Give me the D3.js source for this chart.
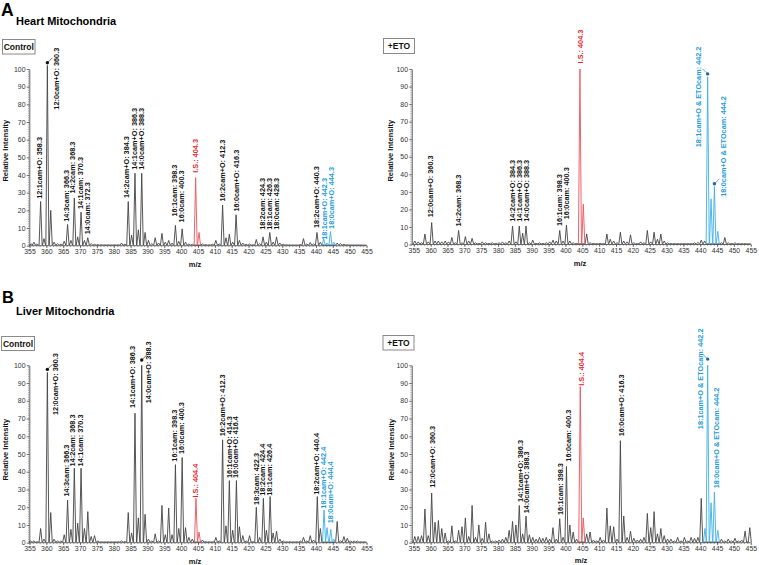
<!DOCTYPE html>
<html><head><meta charset="utf-8">
<script src="https://cdn.jsdelivr.net/npm/d3@7/dist/d3.min.js"></script>
<style>body{margin:0;background:#fff}svg{font-family:"Liberation Sans",Arial,sans-serif}</style>
</head><body>
<svg id="c" width="759" height="565"></svg>
<script>
// ---------- DATA ----------
const mzTicks = [355,360,365,370,375,380,385,390,395,400,405,410,415,420,425,430,435,440,445,450,455];
const intensityTicks = [0,10,20,30,40,50,60,70,80,90,100];

// spectra: [m/z, relative intensity]
const heartControl = [[355.5,1],[356.3,2],[357.2,1],[358.3,25],[359.3,4],[360.3,102],[361.3,20],[362.3,2],[363.3,1.2],[364.3,0.8],[365.3,2.5],[366.3,12],[367.3,3],[368.3,27],[369.3,5],[370.3,19],[371.3,3],[372.3,4.5],[373.3,1.2],[374.3,0.8],[375.3,0.6],[376.3,0.5],[377.3,0.5],[378.3,0.5],[379.3,0.4],[380.3,0.5],[381.3,0.5],[382.3,1.5],[383.3,0.8],[384.3,25],[385.3,6],[386.3,41],[387.3,9],[388.3,41],[389.3,7.5],[390.3,3],[391.3,1.2],[392.3,4.5],[393.3,1.5],[394.3,7],[395.3,2],[396.3,3],[397.3,1.5],[398.3,11.5],[399.3,2.5],[400.3,9.5],[401.3,2],[402.3,1],[403.3,0.8],[404.3,38.5],[405.3,7.5],[406.3,1],[407.3,0.6],[408.3,0.5],[409.3,0.8],[410.3,3],[411.3,1],[412.3,23],[413.3,4.5],[414.3,6.5],[415.3,2],[416.3,17.5],[417.3,3],[418.3,1.5],[419.3,0.8],[420.3,1],[421.3,0.5],[422.3,3.5],[423.3,1.2],[424.3,5],[425.3,2],[426.3,7.5],[427.3,2],[428.3,5],[429.3,1.5],[430.3,0.8],[431.3,0.5],[432.3,0.4],[433.3,0.4],[434.3,0.4],[435.3,0.6],[436.3,4],[437.3,1],[438.3,1.8],[439.3,1],[440.3,7.5],[441.3,2],[442.3,4],[443.3,1.5],[444.3,8],[445.3,2],[446.3,1.5],[447.3,1.2],[448.3,0.8],[449.3,0.5],[450.3,0.4],[452.3,0.4],[454.3,0.3]];

const heartETO = [[355.3,2],[356.3,1.5],[357.3,1],[358.3,6],[359.3,1.5],[360.3,12.5],[361.3,2],[362.3,2],[363.3,1.5],[364.3,2],[365.3,1.5],[366.3,4],[367.3,1],[368.3,8],[369.3,1],[370.3,4.5],[371.3,2],[372.3,3.5],[373.3,1],[374.3,0.6],[375.3,1.5],[376.3,1],[377.3,0.6],[378.3,1],[379.3,0.6],[380.3,1],[381.3,1.5],[382.3,1],[383.3,2],[384.3,10.5],[385.3,1.5],[386.3,10.5],[387.3,6.5],[388.3,10.5],[389.3,1],[390.3,2.5],[391.3,0.6],[392.3,1],[393.3,0.6],[394.3,1],[395.3,1.5],[396.3,2.5],[397.3,2],[398.3,8],[399.3,2],[400.3,11],[401.3,2],[402.3,1],[403.3,0.6],[404.3,100],[405.3,23],[406.3,6],[407.3,1],[408.3,0.6],[409.3,0.5],[410.3,0.6],[411.3,0.5],[412.3,6],[413.3,3],[414.3,2],[415.3,1],[416.3,7],[417.3,2],[418.3,1.5],[419.3,5.5],[420.3,1],[421.3,0.5],[422.3,1.5],[423.3,1],[424.3,8],[425.3,1.5],[426.3,7],[427.3,3],[428.3,6],[429.3,2],[430.3,1],[431.3,0.5],[432.3,0.5],[433.3,0.5],[434.3,0.4],[435.3,0.5],[436.3,0.5],[437.3,0.5],[438.3,1],[439.3,1.2],[440.3,2.5],[441.3,2],[442.2,95.5],[443.2,26],[444.2,33],[445.2,7.5],[446.3,1],[447.3,4],[448.3,1],[449.3,0.6],[450.3,1],[451.3,0.5],[452.3,0.5],[453.3,0.5],[454.3,0.4]];

const liverControl = [[355.3,1],[356.3,1],[357.3,0.5],[358.3,8],[359.3,2],[360.3,96],[361.3,17],[362.3,2],[363.3,1],[364.3,1],[365.3,4.5],[366.3,24],[367.3,7.5],[368.3,42],[369.3,11],[370.3,42],[371.3,8],[372.3,17.5],[373.3,3.5],[374.3,4],[375.3,1],[376.3,0.5],[377.3,0.5],[378.3,0.5],[379.3,0.5],[380.3,0.5],[381.3,0.5],[382.3,1],[383.3,0.6],[384.3,17],[385.3,5.5],[386.3,73],[387.3,14],[388.3,100],[389.3,16],[390.3,2],[391.3,1],[392.3,5],[393.3,1],[394.3,21],[395.3,4.5],[396.3,19.5],[397.3,4.5],[398.3,44],[399.3,8],[400.3,48],[401.3,8.5],[402.3,3],[403.3,2],[404.4,25],[405.3,6],[406.3,1.5],[407.3,0.6],[408.3,0.5],[409.3,0.5],[410.3,3],[411.3,1],[412.3,58],[413.3,9.5],[414.3,35],[415.3,7],[416.4,35],[417.3,9],[418.3,4],[419.3,1],[420.3,4],[421.3,0.5],[422.3,20],[423.3,3],[424.4,25],[425.3,7],[426.4,26],[427.3,5.5],[428.3,6.5],[429.3,2],[430.3,1],[431.3,0.5],[432.3,0.5],[433.3,0.5],[434.3,0.5],[435.3,1],[436.3,3],[437.3,1],[438.3,4],[439.3,1.5],[440.4,26],[441.3,8],[442.4,18.5],[443.3,8.5],[444.4,7.5],[445.3,2],[446.3,12],[447.3,1],[448.3,3.5],[449.3,2.5],[450.3,1],[451.3,1],[452.3,1],[453.3,0.5],[454.3,0.5]];

const liverETO = [[355.3,3.5],[356.3,3.5],[357.3,4],[358.3,19],[359.3,4],[360.3,28],[361.3,11.5],[362.3,12.5],[363.3,8],[364.3,5.5],[365.3,1],[366.3,9.5],[367.3,1],[368.3,7],[369.3,9],[370.3,14],[371.3,3.5],[372.3,21],[373.3,3],[374.3,10],[375.3,2.5],[376.3,11.5],[377.3,5],[378.3,1],[379.3,1],[380.3,1.5],[381.3,2],[382.3,3],[383.3,7],[384.3,12],[385.3,10],[386.3,21],[387.3,5],[388.3,15],[389.3,4.5],[390.3,3],[391.3,2],[392.3,3],[393.3,2.5],[394.3,3],[395.3,2],[396.3,8.5],[397.3,2],[398.3,13.5],[399.3,3],[400.3,43],[401.3,10],[402.3,6],[403.3,2],[404.4,88],[405.3,14],[406.3,5],[407.3,6],[408.3,1.5],[409.3,1],[410.3,3],[411.3,1.5],[412.3,19.5],[413.3,9.5],[414.3,9],[415.3,2],[416.3,57.5],[417.3,15],[418.3,3],[419.3,6.5],[420.3,2.5],[421.3,1.5],[422.3,2],[423.3,3],[424.3,16.5],[425.3,8.5],[426.3,17.5],[427.3,5],[428.3,8],[429.3,4],[430.3,2],[431.3,2],[432.3,1],[433.3,3],[434.3,1],[435.3,3],[436.3,1],[437.3,3],[438.3,2.5],[439.3,3],[440.3,25],[441.4,8],[442.2,100],[443.2,22.5],[444.2,28.5],[445.2,7],[446.3,2],[447.3,1],[448.3,2],[449.3,1],[450.3,2.5],[451.3,1],[452.3,1.5],[453.3,6.5],[454.7,8.5]];

// peak labels: [text, m/z of label, intensity at label foot, kind, callout peak m/z, callout intensity]
const heartControlLabels = [
 ["12:1cam+O: 358.3",357.9,26.5,"std"],
 ["12:0cam+O: 360.3",363.1,77,"std",360.3,103.5],
 ["14:3cam: 366.3",365.8,13.5,"std"],
 ["14:2cam: 368.3",367.8,29.5,"std"],
 ["14:1cam: 370.3",370.0,20.8,"std"],
 ["14:0cam: 372.3",372.2,6.5,"std"],
 ["14:2cam+O: 384.3",383.8,27,"std"],
 ["14:1cam+O: 386.3",386.1,43,"std"],
 ["14:0cam+O: 388.3",388.1,43,"std"],
 ["16:1cam: 398.3",397.9,16.5,"std"],
 ["16:0cam: 400.3",400.2,13.2,"std"],
 ["I.S.: 404.3",404.3,41.3,"is"],
 ["16:2cam+O: 412.3",412.2,25,"std"],
 ["16:0cam+O: 416.3",416.3,19.3,"std"],
 ["18:2cam: 424.3",424.1,9,"std"],
 ["18:1cam: 426.3",426.2,9,"std"],
 ["18:0cam: 428.3",428.4,9,"std"],
 ["18:2cam+O: 440.3",440.2,10,"std"],
 ["18:1cam+O: 442.3",442.4,3.3,"eto"],
 ["18:0cam+O: 444.3",444.6,9.5,"eto"]
];
const heartETOLabels = [
 ["12:0cam+O: 360.3",360.0,15.5,"std"],
 ["14:2cam: 368.3",368.2,10.2,"std"],
 ["14:2cam+O: 384.3",384.35,13,"std"],
 ["14:1cam+O: 386.3",386.3,13,"std"],
 ["14:0cam+O: 388.3",388.5,13,"std"],
 ["16:1cam: 398.3",398.2,10.5,"std"],
 ["16:0cam: 400.3",400.4,14.4,"std"],
 ["I.S.: 404.3",404.3,103.2,"is"],
 ["18:1cam+O & ETOcam: 442.2",439.4,55.4,"eto",442.2,97.2],
 ["18:0cam+O & ETOcam: 444.2",446.8,27.2,"eto",444.2,34.6]
];
const liverControlLabels = [
 ["12:0cam+O: 360.3",362.6,72,"std",360.3,97.7],
 ["14:3cam: 366.3",365.8,26,"std"],
 ["14:2cam: 368.3",367.8,43,"std"],
 ["14:1cam: 370.3",370.0,43,"std"],
 ["14:1cam+O: 386.3",385.5,76,"std"],
 ["14:0cam+O: 388.3",390.3,78.6,"std",388.3,103],
 ["16:1cam: 398.3",398.0,45.7,"std"],
 ["16:0cam: 400.3",400.2,50,"std"],
 ["I.S.: 404.4",404.1,25.5,"is"],
 ["16:2cam+O: 412.3",412.2,60,"std"],
 ["16:1cam+O: 414.3",414.2,36.5,"std"],
 ["16:0cam+O: 416.4",416.2,36.5,"std"],
 ["18:3cam: 422.3",422.2,21.3,"std"],
 ["18:2cam: 424.4",424.2,26.5,"std"],
 ["18:1cam: 426.4",426.2,26.5,"std"],
 ["18:2cam+O: 440.4",440.2,27,"std"],
 ["18:1cam+O: 442.4",442.2,19.2,"eto"],
 ["18:0cam+O: 444.4",444.4,11,"eto"]
];
const liverETOLabels = [
 ["12:0cam+O: 360.3",360.6,31,"std"],
 ["14:1cam+O: 386.3",386.5,23,"std"],
 ["14:0cam+O: 388.3",388.5,16.6,"std"],
 ["16:1cam: 398.3",398.6,15.6,"std"],
 ["16:0cam: 400.3",400.8,45.7,"std"],
 ["I.S.: 404.4",404.8,88.5,"is"],
 ["16:0cam+O: 416.3",416.7,60,"std"],
 ["18:1cam+O & ETOcam: 442.2",440.1,64,"eto",442.2,103.5],
 ["18:0cam+O & ETOcam: 444.2",444.7,30.7,"eto"]
];

// ---------- LAYOUT / STYLE ----------
const svg = d3.select("#c");
const textColor = {std:"#111", is:"#e3262d", eto:"#1c9bd8"};
const lineColor = {std:"#444", is:"#ec5a62", eto:"#45b3ea"};
const dotColor = {std:"#111", is:"#e3262d", eto:"#1f63ad"};
function kindOf(mz){
  if (mz >= 403.8 && mz <= 405.8) return "is";
  if (mz >= 441.35 && mz <= 445.7) return "eto";
  return "std";
}

const panels = [
 {peaks:heartControl, labels:heartControlLabels, tag:"Control", ax:29.3, xr:[29.5,366.5], yr:[245.7,69],
  box:[2.5,39.5,32.5,14.5], ylab:[5,150.7], mz:[195,268]},
 {peaks:heartETO, labels:heartETOLabels, tag:"+ETO", ax:411.8, xr:[413.8,750.8], yr:[244.5,69],
  box:[383.5,38.5,31,15], ylab:[390,150.7], mz:[580,266.5]},
 {peaks:liverControl, labels:liverControlLabels, tag:"Control", ax:29.3, xr:[29.5,366.5], yr:[542.7,365.3],
  box:[1.5,336.5,33,14], ylab:[5,449.7], mz:[195,565]},
 {peaks:liverETO, labels:liverETOLabels, tag:"+ETO", ax:411.8, xr:[413.8,750.8], yr:[542.7,365.3],
  box:[383,335.5,31,14.5], ylab:[391,449.7], mz:[581,564]}
];

// headings
svg.append("text").attr("x",1).attr("y",16).attr("font-size",17.5).attr("font-weight","bold").text("A");
svg.append("text").attr("x",16).attr("y",25.2).attr("font-size",11).attr("font-weight","bold").text("Heart Mitochondria");
svg.append("text").attr("x",2).attr("y",303.3).attr("font-size",16.5).attr("font-weight","bold").text("B");
svg.append("text").attr("x",16).attr("y",314.5).attr("font-size",11).attr("font-weight","bold").text("Liver Mitochondria");

const HW = 0.45, BASE = 0.35;
const labFS = 7.3;

panels.forEach(p => {
  const x = d3.scaleLinear().domain([355,455]).range(p.xr);
  const y = d3.scaleLinear().domain([0,100]).range(p.yr);
  const g = svg.append("g");

  // tag box
  g.append("rect").attr("x",p.box[0]).attr("y",p.box[1]).attr("width",p.box[2]).attr("height",p.box[3])
    .attr("fill","#fff").attr("stroke","#8a8a8a").attr("stroke-width",1);
  g.append("text").attr("x",p.box[0]+p.box[2]/2).attr("y",p.box[1]+p.box[3]/2+3.1)
    .attr("text-anchor","middle").attr("font-size",8.5).attr("font-weight","bold").attr("fill","#111").text(p.tag);

  // axes
  const yMinor = g.append("g").attr("transform",`translate(${p.ax},0)`)
    .call(d3.axisLeft(y).tickValues(d3.range(0,101,1)).tickSize(1.4).tickFormat(""));
  yMinor.select(".domain").remove();
  yMinor.selectAll("line").attr("stroke","#555").attr("stroke-width",0.5);
  const yAx = g.append("g").attr("transform",`translate(${p.ax},0)`)
    .call(d3.axisLeft(y).tickValues(intensityTicks).tickSize(2.6).tickSizeOuter(0).tickPadding(1.2));
  yAx.select(".domain").attr("stroke","#444").attr("stroke-width",0.8);
  yAx.selectAll("line").attr("stroke","#444").attr("stroke-width",0.7);
  yAx.selectAll("text").attr("font-size",6.9).attr("fill","#333").attr("font-family","Liberation Sans, Arial, sans-serif");

  const xMinor = g.append("g").attr("transform",`translate(0,${p.yr[0]})`)
    .call(d3.axisBottom(x).tickValues(d3.range(355,456,1)).tickSize(1.4).tickFormat(""));
  xMinor.select(".domain").remove();
  xMinor.selectAll("line").attr("stroke","#555").attr("stroke-width",0.5);
  const xAx = g.append("g").attr("transform",`translate(0,${p.yr[0]})`)
    .call(d3.axisBottom(x).tickValues(mzTicks).tickSize(2.4).tickSizeOuter(0).tickPadding(1.2));
  xAx.select(".domain").attr("stroke","#444").attr("stroke-width",0.8)
     .attr("d",`M${p.ax},0H${p.xr[1]}`);
  xAx.selectAll("line").attr("stroke","#444").attr("stroke-width",0.7);
  xAx.selectAll("text").attr("font-size",6.9).attr("fill","#333").attr("font-family","Liberation Sans, Arial, sans-serif");

  // axis titles
  g.append("text").attr("transform",`translate(${p.ylab[0]+2.6},${p.ylab[1]}) rotate(-90)`)
    .attr("text-anchor","middle").attr("font-size",7.5).attr("font-weight","bold").attr("fill","#111").text("Relative Intensity");
  g.append("text").attr("x",p.mz[0]).attr("y",p.mz[1]-0.8).attr("text-anchor","middle")
    .attr("font-size",7.5).attr("font-weight","bold").attr("fill","#111").text("m/z");

  // spectrum
  const line = d3.line().x(d=>x(d[0])).y(d=>y(d[1]));
  const sorted = p.peaks.slice().sort((a,b)=>a[0]-b[0]);
  const blackPts = [[355,BASE]];
  sorted.forEach(([m,v]) => {
    if (kindOf(m) === "std") blackPts.push([m-HW,BASE],[m,v],[m+HW,BASE]);
  });
  blackPts.push([455,BASE]);
  g.append("path").attr("d",line(blackPts)).attr("fill","none")
    .attr("stroke",lineColor.std).attr("stroke-width",0.9).attr("stroke-linejoin","round");
  sorted.forEach(([m,v]) => {
    const k = kindOf(m);
    if (k === "std") return;
    g.append("path").attr("d",line([[m-HW,BASE],[m,v],[m+HW,BASE]])).attr("fill","none")
      .attr("stroke",lineColor[k]).attr("stroke-width",0.95).attr("stroke-linejoin","round");
  });

  // labels
  p.labels.forEach(L => {
    const [t,m,v,k,cm,cv] = L;
    g.append("text")
      .attr("transform",`translate(${x(m)+labFS*0.36},${y(v)}) rotate(-90)`)
      .attr("font-size",labFS).attr("font-weight","bold").attr("fill",textColor[k]).text(t);
    if (cm !== undefined) {
      const dir = m > cm ? 1 : -1;
      g.append("line").attr("x1",x(cm)).attr("y1",y(cv)).attr("x2",x(cm)+dir*5).attr("y2",y(cv)-5)
        .attr("stroke",k==="eto"?"#3a78b8":"#333").attr("stroke-width",0.7);
      g.append("circle").attr("cx",x(cm)).attr("cy",y(cv)).attr("r",1.7).attr("fill",dotColor[k]);
    }
  });
});
</script>
</body></html>
